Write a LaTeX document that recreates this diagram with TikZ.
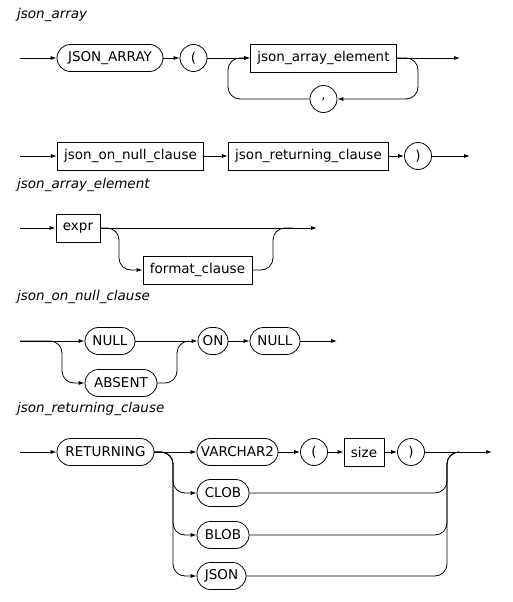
\documentclass[tikz,border=0pt]{standalone}
\usepackage{fontspec}
\setmainfont{DejaVu Sans}[ItalicFont={DejaVu Sans Oblique}]
\usetikzlibrary{arrows.meta}

\begin{document}
\begin{tikzpicture}[x=1pt, y=-1pt,
		kw/.style = {rectangle, draw, line width=0.8pt, rounded corners=13.5pt, minimum height=27pt, inner xsep=4pt, font=\fontsize{13.5}{16}\selectfont},
		nt/.style = {rectangle, draw, line width=0.8pt, minimum height=28pt, inner xsep=7pt, font=\fontsize{13.5}{16}\selectfont},
		sym/.style = {circle, draw, line width=0.8pt, minimum size=27pt, inner sep=0pt, font=\fontsize{13.5}{16}\selectfont},
		ttl/.style = {anchor=west, inner sep=0pt, font=\fontsize{13.5}{16}\selectfont\itshape},
		ar/.style = {-{Latex[length=6pt, width=4pt]}, line width=0.8pt, rounded corners=12pt},
		ln/.style = {line width=0.8pt, rounded corners=12pt}
		]
		\useasboundingbox (0,0) rectangle (513,602);
		
		%json_array
		\node[ttl]	(t1)	at	(17,15)	{json\_array};
		\coordinate	(s1)	at	(20,58);
		\node[kw, minimum width=106pt]	(jarr)	at	(110,58)	{JSON\_ARRAY};
		\node[sym]	(lp1)	at	(193.5,58)	{(};
		\node[nt]	(elem)	at	(323.5,58)	{json\_array\_element};
		\node[sym]	(comma)	at	(323.5,99)	{,};
		\coordinate	(lr)	at	(418,99);
		\coordinate	(ll)	at	(228,99);
		\coordinate	(e1)	at	(460,58);
		
		\draw[ar]	(s1)	--	(jarr);
		\draw[ar]	(jarr)	--	(lp1);
		\draw[ar]	(lp1)	--	(elem);
		\draw[ar]	(elem)	--	(e1);
		\draw[ar]	(elem.east)	-|	(lr)	--	(comma.east);
		\draw[ar]	(comma.west)	--	(ll)	|-	(elem.west);
		
		%second line of json_array
		\coordinate	(s2)	at	(20,156);
		\node[nt]	(onnull)	at	(130.5,156)	{json\_on\_null\_clause};
		\node[nt]	(retcl)	at	(308.5,156)	{json\_returning\_clause};
		\node[sym]	(rp1)	at	(418,156)	{)};
		\coordinate	(e2)	at	(470,156);
		
		\draw[ar]	(s2)	--	(onnull);
		\draw[ar]	(onnull)	--	(retcl);
		\draw[ar]	(retcl)	--	(rp1);
		\draw[ar]	(rp1)	--	(e2);
		
		%json_array_element
		\node[ttl]	(t2)	at	(17,185)	{json\_array\_element};
		\coordinate	(s3)	at	(20,228);
		\node[nt]	(expr)	at	(78,228)	{expr};
		\node[nt]	(fmt)	at	(197.5,270)	{format\_clause};
		\coordinate	(b3)	at	(119,228);
		\coordinate	(j3)	at	(273,228);
		\coordinate	(e3)	at	(317,228);
		
		\draw[ar]	(s3)	--	(expr);
		\draw[ar]	(expr)	--	(e3);
		\draw[ar]	(expr.east)	--	(b3)	|-	(fmt.west);
		\draw[ln]	(fmt.east)	-|	(j3)	--	++(20,0);
		
		%json_on_null_clause
		\node[ttl]	(t3)	at	(17,297)	{json\_on\_null\_clause};
		\coordinate	(s4)	at	(20,341);
		\coordinate	(b4)	at	(62,341);
		\node[kw, minimum width=50pt]	(null1)	at	(110,341)	{NULL};
		\node[kw, minimum width=72pt]	(absent)	at	(121,383)	{ABSENT};
		\coordinate	(j4)	at	(177,341);
		\node[kw, minimum width=30pt]	(on)	at	(213,341)	{ON};
		\node[kw, minimum width=50pt]	(null2)	at	(275,341)	{NULL};
		\coordinate	(e4)	at	(337,341);
		
		\draw[ar]	(s4)	--	(null1);
		\draw[ar]	(s4)	--	(b4)	|-	(absent.west);
		\draw[ar]	(null1)	--	(on);
		\draw[ln]	(absent.east)	-|	(j4)	--	++(12,0);
		\draw[ar]	(on)	--	(null2);
		\draw[ar]	(null2)	--	(e4);
		
		%json_returning_clause
		\node[ttl]	(t4)	at	(17,409)	{json\_returning\_clause};
		\coordinate	(s5)	at	(20,452);
		\node[kw, minimum width=97pt]	(ret)	at	(105.5,452)	{RETURNING};
		\coordinate	(b5)	at	(173,452);
		\node[kw, minimum width=81pt]	(vc2)	at	(237.5,452)	{VARCHAR2};
		\node[sym]	(lp2)	at	(314,452)	{(};
		\node[nt]	(size)	at	(364,452)	{size};
		\node[sym]	(rp2)	at	(411,452)	{)};
		\coordinate	(j5)	at	(447,452);
		\coordinate	(e5)	at	(492,452);
		\node[kw, minimum width=52pt]	(clob)	at	(223,493)	{CLOB};
		\node[kw, minimum width=52pt]	(blob)	at	(223,535)	{BLOB};
		\node[kw, minimum width=49pt]	(json)	at	(221.5,576)	{JSON};
		
		\draw[ar]	(s5)	--	(ret);
		\draw[ar]	(ret)	--	(vc2);
		\draw[ar]	(vc2)	--	(lp2);
		\draw[ar]	(lp2)	--	(size);
		\draw[ar]	(size)	--	(rp2);
		\draw[ar]	(rp2)	--	(e5);
		\draw[ar]	(ret.east)	--	(b5)	|-	(clob.west);
		\draw[ar]	(ret.east)	--	(b5)	|-	(blob.west);
		\draw[ar]	(ret.east)	--	(b5)	|-	(json.west);
		\draw[ln]	(clob.east)	-|	(j5)	--	++(12,0);
		\draw[ln]	(blob.east)	-|	(j5)	--	++(12,0);
		\draw[ln]	(json.east)	-|	(j5)	--	++(12,0);
	\end{tikzpicture}
\end{document}
